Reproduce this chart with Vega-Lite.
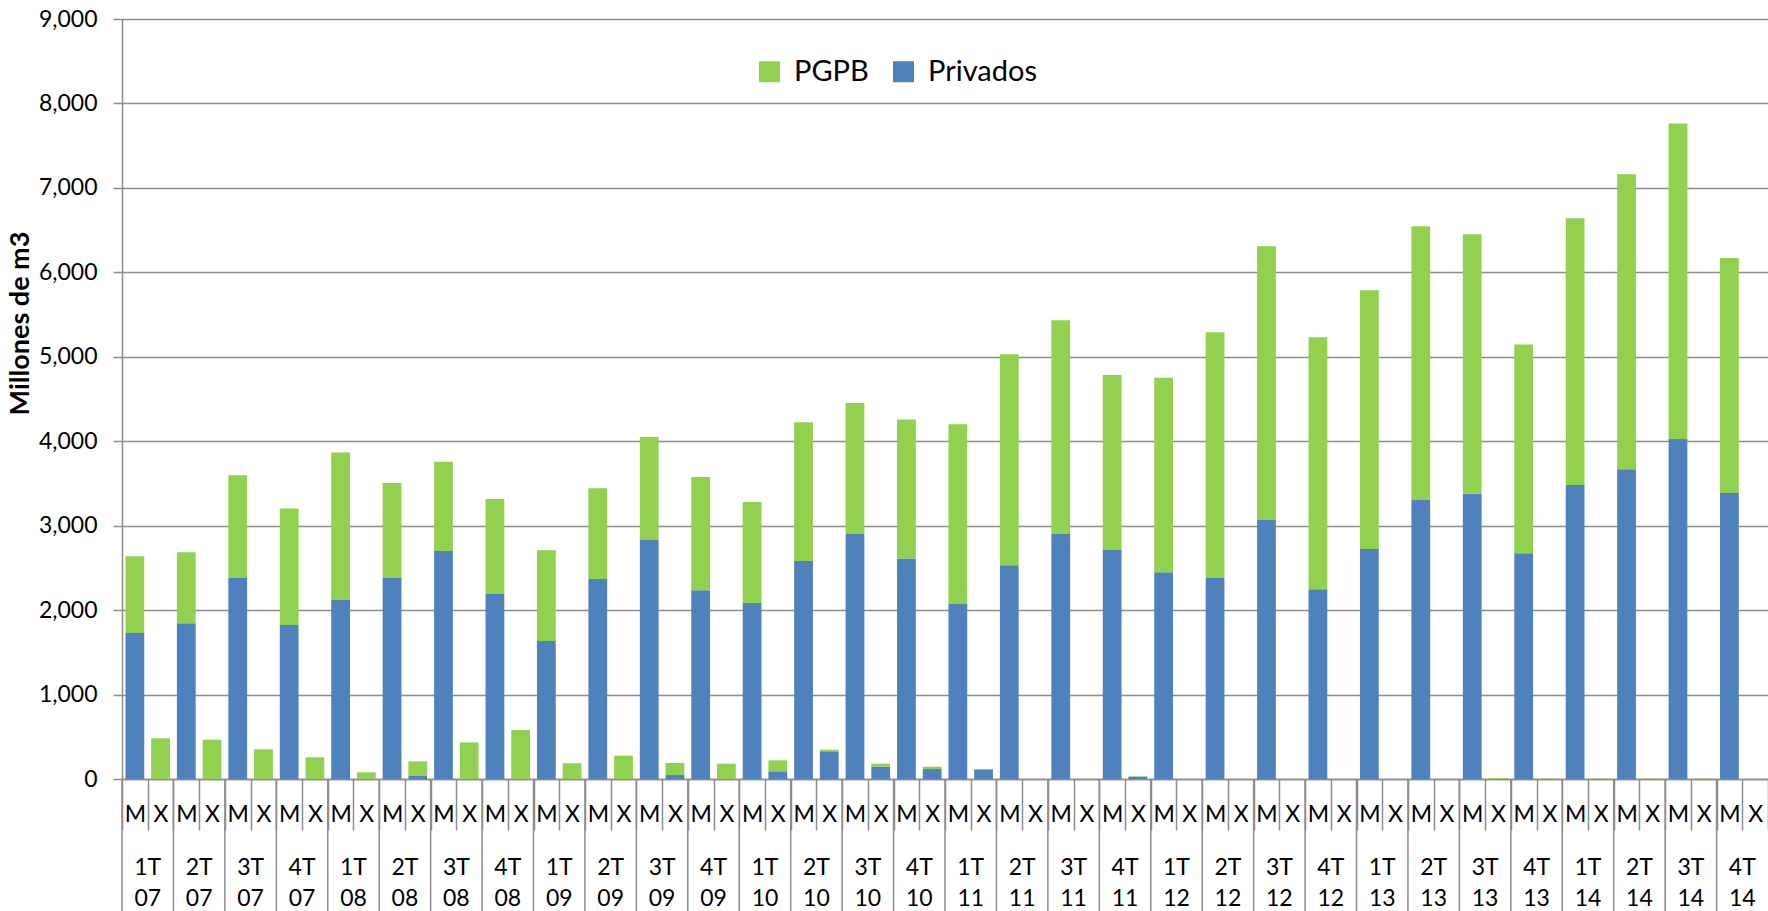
{
  "$schema": "https://vega.github.io/schema/vega-lite/v6.json",
  "autosize": "none",
  "padding": {"left": 122, "top": 19, "right": 0, "bottom": 132},
  "width": 1646,
  "height": 760,
  "config": {"font": "Lato", "view": {"stroke": null}, "axis": {"labelColor": "#000000", "titleColor": "#000000"}},
  "datasets": {
    "quarters": [
      {"k":"1T07M","ql":"1T 07"},{"k":"2T07M","ql":"2T 07"},{"k":"3T07M","ql":"3T 07"},{"k":"4T07M","ql":"4T 07"},
      {"k":"1T08M","ql":"1T 08"},{"k":"2T08M","ql":"2T 08"},{"k":"3T08M","ql":"3T 08"},{"k":"4T08M","ql":"4T 08"},
      {"k":"1T09M","ql":"1T 09"},{"k":"2T09M","ql":"2T 09"},{"k":"3T09M","ql":"3T 09"},{"k":"4T09M","ql":"4T 09"},
      {"k":"1T10M","ql":"1T 10"},{"k":"2T10M","ql":"2T 10"},{"k":"3T10M","ql":"3T 10"},{"k":"4T10M","ql":"4T 10"},
      {"k":"1T11M","ql":"1T 11"},{"k":"2T11M","ql":"2T 11"},{"k":"3T11M","ql":"3T 11"},{"k":"4T11M","ql":"4T 11"},
      {"k":"1T12M","ql":"1T 12"},{"k":"2T12M","ql":"2T 12"},{"k":"3T12M","ql":"3T 12"},{"k":"4T12M","ql":"4T 12"},
      {"k":"1T13M","ql":"1T 13"},{"k":"2T13M","ql":"2T 13"},{"k":"3T13M","ql":"3T 13"},{"k":"4T13M","ql":"4T 13"},
      {"k":"1T14M","ql":"1T 14"},{"k":"2T14M","ql":"2T 14"},{"k":"3T14M","ql":"3T 14"},{"k":"4T14M","ql":"4T 14"}
    ],
    "bars": [
    {"k":"1T07M","serie":"Privados","v":1729},{"k":"1T07M","serie":"PGPB","v":908},
    {"k":"1T07X","serie":"Privados","v":0},{"k":"1T07X","serie":"PGPB","v":482},
    {"k":"2T07M","serie":"Privados","v":1844},{"k":"2T07M","serie":"PGPB","v":841},
    {"k":"2T07X","serie":"Privados","v":0},{"k":"2T07X","serie":"PGPB","v":466},
    {"k":"3T07M","serie":"Privados","v":2381},{"k":"3T07M","serie":"PGPB","v":1216},
    {"k":"3T07X","serie":"Privados","v":0},{"k":"3T07X","serie":"PGPB","v":351},
    {"k":"4T07M","serie":"Privados","v":1824},{"k":"4T07M","serie":"PGPB","v":1378},
    {"k":"4T07X","serie":"Privados","v":0},{"k":"4T07X","serie":"PGPB","v":257},
    {"k":"1T08M","serie":"Privados","v":2120},{"k":"1T08M","serie":"PGPB","v":1745},
    {"k":"1T08X","serie":"Privados","v":0},{"k":"1T08X","serie":"PGPB","v":79},
    {"k":"2T08M","serie":"Privados","v":2381},{"k":"2T08M","serie":"PGPB","v":1125},
    {"k":"2T08X","serie":"Privados","v":36},{"k":"2T08X","serie":"PGPB","v":173},
    {"k":"3T08M","serie":"Privados","v":2700},{"k":"3T08M","serie":"PGPB","v":1058},
    {"k":"3T08X","serie":"Privados","v":0},{"k":"3T08X","serie":"PGPB","v":434},
    {"k":"4T08M","serie":"Privados","v":2191},{"k":"4T08M","serie":"PGPB","v":1125},
    {"k":"4T08X","serie":"Privados","v":0},{"k":"4T08X","serie":"PGPB","v":580},
    {"k":"1T09M","serie":"Privados","v":1634},{"k":"1T09M","serie":"PGPB","v":1074},
    {"k":"1T09X","serie":"Privados","v":0},{"k":"1T09X","serie":"PGPB","v":186},
    {"k":"2T09M","serie":"Privados","v":2369},{"k":"2T09M","serie":"PGPB","v":1074},
    {"k":"2T09X","serie":"Privados","v":0},{"k":"2T09X","serie":"PGPB","v":276},
    {"k":"3T09M","serie":"Privados","v":2831},{"k":"3T09M","serie":"PGPB","v":1219},
    {"k":"3T09X","serie":"Privados","v":47},{"k":"3T09X","serie":"PGPB","v":143},
    {"k":"4T09M","serie":"Privados","v":2235},{"k":"4T09M","serie":"PGPB","v":1342},
    {"k":"4T09X","serie":"Privados","v":0},{"k":"4T09X","serie":"PGPB","v":182},
    {"k":"1T10M","serie":"Privados","v":2085},{"k":"1T10M","serie":"PGPB","v":1196},
    {"k":"1T10X","serie":"Privados","v":91},{"k":"1T10X","serie":"PGPB","v":130},
    {"k":"2T10M","serie":"Privados","v":2582},{"k":"2T10M","serie":"PGPB","v":1642},
    {"k":"2T10X","serie":"Privados","v":328},{"k":"2T10X","serie":"PGPB","v":19},
    {"k":"3T10M","serie":"Privados","v":2902},{"k":"3T10M","serie":"PGPB","v":1551},
    {"k":"3T10X","serie":"Privados","v":146},{"k":"3T10X","serie":"PGPB","v":36},
    {"k":"4T10M","serie":"Privados","v":2610},{"k":"4T10M","serie":"PGPB","v":1646},
    {"k":"4T10X","serie":"Privados","v":118},{"k":"4T10X","serie":"PGPB","v":28},
    {"k":"1T11M","serie":"Privados","v":2073},{"k":"1T11M","serie":"PGPB","v":2127},
    {"k":"1T11X","serie":"Privados","v":114},{"k":"1T11X","serie":"PGPB","v":5},
    {"k":"2T11M","serie":"Privados","v":2531},{"k":"2T11M","serie":"PGPB","v":2499},
    {"k":"2T11X","serie":"Privados","v":0},{"k":"2T11X","serie":"PGPB","v":0},
    {"k":"3T11M","serie":"Privados","v":2902},{"k":"3T11M","serie":"PGPB","v":2530},
    {"k":"3T11X","serie":"Privados","v":0},{"k":"3T11X","serie":"PGPB","v":0},
    {"k":"4T11M","serie":"Privados","v":2712},{"k":"4T11M","serie":"PGPB","v":2073},
    {"k":"4T11X","serie":"Privados","v":28},{"k":"4T11X","serie":"PGPB","v":4},
    {"k":"1T12M","serie":"Privados","v":2448},{"k":"1T12M","serie":"PGPB","v":2305},
    {"k":"1T12X","serie":"Privados","v":0},{"k":"1T12X","serie":"PGPB","v":0},
    {"k":"2T12M","serie":"Privados","v":2381},{"k":"2T12M","serie":"PGPB","v":2909},
    {"k":"2T12X","serie":"Privados","v":0},{"k":"2T12X","serie":"PGPB","v":0},
    {"k":"3T12M","serie":"Privados","v":3068},{"k":"3T12M","serie":"PGPB","v":3241},
    {"k":"3T12X","serie":"Privados","v":0},{"k":"3T12X","serie":"PGPB","v":0},
    {"k":"4T12M","serie":"Privados","v":2246},{"k":"4T12M","serie":"PGPB","v":2985},
    {"k":"4T12X","serie":"Privados","v":0},{"k":"4T12X","serie":"PGPB","v":0},
    {"k":"1T13M","serie":"Privados","v":2724},{"k":"1T13M","serie":"PGPB","v":3064},
    {"k":"1T13X","serie":"Privados","v":0},{"k":"1T13X","serie":"PGPB","v":0},
    {"k":"2T13M","serie":"Privados","v":3304},{"k":"2T13M","serie":"PGPB","v":3242},
    {"k":"2T13X","serie":"Privados","v":0},{"k":"2T13X","serie":"PGPB","v":0},
    {"k":"3T13M","serie":"Privados","v":3379},{"k":"3T13M","serie":"PGPB","v":3072},
    {"k":"3T13X","serie":"Privados","v":0},{"k":"3T13X","serie":"PGPB","v":12},
    {"k":"4T13M","serie":"Privados","v":2673},{"k":"4T13M","serie":"PGPB","v":2471},
    {"k":"4T13X","serie":"Privados","v":0},{"k":"4T13X","serie":"PGPB","v":5},
    {"k":"1T14M","serie":"Privados","v":3482},{"k":"1T14M","serie":"PGPB","v":3158},
    {"k":"1T14X","serie":"Privados","v":0},{"k":"1T14X","serie":"PGPB","v":5},
    {"k":"2T14M","serie":"Privados","v":3668},{"k":"2T14M","serie":"PGPB","v":3493},
    {"k":"2T14X","serie":"Privados","v":0},{"k":"2T14X","serie":"PGPB","v":5},
    {"k":"3T14M","serie":"Privados","v":4027},{"k":"3T14M","serie":"PGPB","v":3735},
    {"k":"3T14X","serie":"Privados","v":0},{"k":"3T14X","serie":"PGPB","v":5},
    {"k":"4T14M","serie":"Privados","v":3387},{"k":"4T14M","serie":"PGPB","v":2784},
    {"k":"4T14X","serie":"Privados","v":0},{"k":"4T14X","serie":"PGPB","v":0}
    ]
  },
  "layer": [
    {
      "data": {"name": "bars"},
      "mark": {"type": "bar", "width": {"band": 0.73}},
      "encoding": {
        "x": {
          "field": "k", "type": "nominal", "sort": null,
          "scale": {"paddingInner": 0, "paddingOuter": 0},
          "axis": {
            "title": null, "labelAngle": 0,
            "labelExpr": "isString(datum.value) ? substring(datum.value, 4, 5) : ''",
            "labelFontSize": 23, "labelBaseline": "middle", "labelPadding": -16,
            "tickBand": "extent", "tickSize": 51, "tickColor": "#8c8c8c", "tickWidth": 1.5,
            "domain": true, "domainColor": "#8c8c8c", "domainWidth": 1.5, "grid": false
          }
        },
        "y": {
          "field": "v", "type": "quantitative", "stack": "zero",
          "scale": {"domain": [0, 9000], "nice": false},
          "axis": {
            "title": "Millones de  m3", "titleFontSize": 27, "titleFontWeight": "bold",
            "titleX": -102, "titleY": 304, "titleBaseline": "middle", "titleAlign": "center", "titleAngle": -90,
            "values": [0,1000,2000,3000,4000,5000,6000,7000,8000,9000],
            "format": ",.0f", "labelFontSize": 23, "labelPadding": 16,
            "tickSize": 9, "tickColor": "#8c8c8c", "tickWidth": 1.5,
            "domainColor": "#8c8c8c", "domainWidth": 1.5,
            "grid": true, "gridColor": "#8c8c8c", "gridWidth": 1.5
          }
        },
        "order": {"field": "serie", "sort": "descending"},
        "color": {
          "field": "serie", "type": "nominal",
          "scale": {"domain": ["PGPB", "Privados"], "range": ["#92D050", "#4F81BD"]},
          "legend": {
            "orient": "none", "legendX": 633, "legendY": 38, "direction": "horizontal",
            "title": null, "symbolType": "square", "symbolSize": 441, "symbolStrokeWidth": 0,
            "labelFontSize": 29, "labelOffset": 10, "columnPadding": 20, "padding": 0,
            "labelColor": "#000000"
          }
        }
      }
    },
    {
      "data": {"name": "quarters"},
      "mark": {"type": "text", "fontSize": 23, "baseline": "top", "align": "center", "lineBreak": " ", "lineHeight": 31, "dy": 78, "xOffset": 12.86, "color": "#000000"},
      "encoding": {
        "x": {"field": "k", "type": "nominal", "sort": null},
        "y": {"datum": 0},
        "text": {"field": "ql"}
      }
    },
    {
      "data": {"name": "quarters"},
      "mark": {"type": "rule", "color": "#8c8c8c", "strokeWidth": 1.5, "y2Offset": 132},
      "encoding": {
        "x": {"field": "k", "type": "nominal", "sort": null, "bandPosition": 0},
        "y": {"datum": 0},
        "y2": {"datum": 0}
      }
    }
  ]
}
